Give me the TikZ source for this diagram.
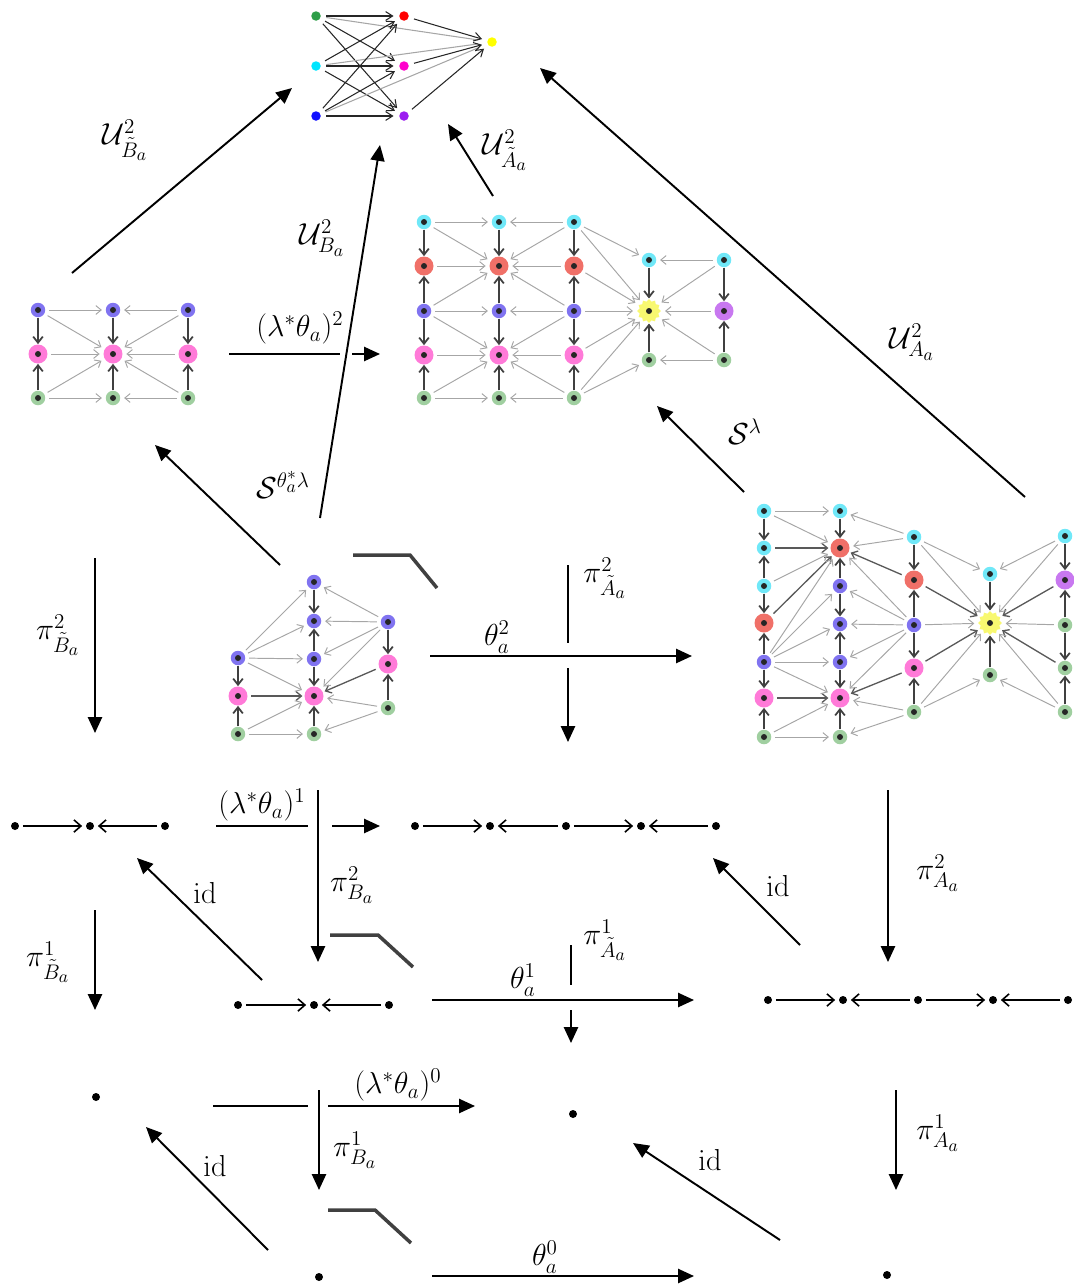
\documentclass[tikz,border=0pt]{standalone}
\usepackage{amsmath,amssymb}
\usetikzlibrary{arrows.meta, shapes.geometric}
\definecolor{Kgreen}{HTML}{2E9E48}
\definecolor{Kcyan}{HTML}{00E5FF}
\definecolor{Kblue}{HTML}{1010FF}
\definecolor{Kred}{HTML}{FF0000}
\definecolor{Kmag}{HTML}{FF00CC}
\definecolor{Kpurple}{HTML}{9B1CF0}
\definecolor{Kyellow}{HTML}{FFFF00}
\definecolor{Vblue}{HTML}{8073F0}
\definecolor{Vpink}{HTML}{FF7AD8}
\definecolor{Vgreen}{HTML}{A0CFA0}
\definecolor{Vcyan}{HTML}{70E8F8}
\definecolor{Vred}{HTML}{F07068}
\definecolor{Vyellow}{HTML}{F8F870}
\definecolor{Vpurple}{HTML}{C878F0}

\begin{document}
\begin{tikzpicture}[x=0.02cm, y=-0.02cm,
   vtx/.style={circle, inner sep=0pt, minimum size=0.29cm,
      path picture={\fill[black!85] (path picture bounding box.center) circle (0.06cm);}},
   vbig/.style={vtx, minimum size=0.38cm},
   sun/.style={star, star points=12, star point ratio=1.25, inner sep=0pt, minimum size=0.48cm, fill=Vyellow,
      path picture={\fill[black!85] (path picture bounding box.center) circle (0.06cm);}},
   kdot/.style={circle, inner sep=0pt, minimum size=0.19cm},
   pt/.style={circle, fill=black, inner sep=0pt, minimum size=0.16cm},
   gedge/.style={-{Straight Barb[length=3pt,width=5pt]}, gray!70, line width=0.55pt, shorten >=2pt, shorten <=2pt},
   dedge/.style={-{Straight Barb[length=3.5pt,width=5.5pt]}, black!75, line width=1pt},
   medge/.style={-{Straight Barb[length=3pt,width=5pt]}, black!65, line width=0.75pt, shorten >=1pt, shorten <=2pt},
   kedge/.style={-{Straight Barb[length=4pt,width=5pt]}, black!85, line width=0.6pt, shorten >=3pt, shorten <=3pt},
   segarr/.style={-{Straight Barb[length=4pt,width=7pt]}, line width=0.9pt, shorten >=2pt, shorten <=2pt},
   map/.style={-{Triangle[length=9pt,width=8pt]}, line width=1.1pt},
   corner/.style={line width=2pt, black!75},
   lbl/.style={font=\LARGE}
]
\useasboundingbox (0,0) rectangle (1073,1285);

% complete graph at the top
\node[kdot, fill=Kgreen] (K1) at (316,16) {};
\node[kdot, fill=Kcyan] (K2) at (316,66) {};
\node[kdot, fill=Kblue] (K3) at (316,116) {};
\node[kdot, fill=Kred] (K4) at (404,16) {};
\node[kdot, fill=Kmag] (K5) at (404,66) {};
\node[kdot, fill=Kpurple] (K6) at (404,116) {};
\node[kdot, fill=Kyellow] (K7) at (492,42) {};
\foreach \s in {K1,K2,K3} {
   \draw[gray!70, line width=0.6pt, shorten >=5pt, shorten <=3pt] (\s) -- (K7);
   \foreach \t in {K4,K5,K6} \draw[kedge] (\s) -- (\t);
}
\foreach \s in {K4,K5,K6} \draw[kedge] (\s) -- (K7);

% graph of B~a (left)
\node[vtx, fill=Vblue] (L1) at (38,310) {};
\node[vtx, fill=Vblue] (L2) at (113,310) {};
\node[vtx, fill=Vblue] (L3) at (188,310) {};
\node[vbig, fill=Vpink] (L4) at (38,354) {};
\node[vbig, fill=Vpink] (L5) at (113,354) {};
\node[vbig, fill=Vpink] (L6) at (188,354) {};
\node[vtx, fill=Vgreen] (L7) at (38,398) {};
\node[vtx, fill=Vgreen] (L8) at (113,398) {};
\node[vtx, fill=Vgreen] (L9) at (188,398) {};
\foreach \s/\t in {L1/L4, L7/L4, L2/L5, L8/L5, L3/L6, L9/L6} \draw[dedge] (\s) -- (\t);
\foreach \s/\t in {L1/L2, L3/L2, L1/L5, L3/L5, L4/L5, L6/L5, L7/L5, L9/L5, L7/L8, L9/L8}
   \draw[gedge] (\s) -- (\t);

% graph of A~a (middle top)
\foreach \c/\x in {Ma/424, Mb/499, Mc/574} {
   \node[vtx, fill=Vcyan] (\c1) at (\x,222) {};
   \node[vbig, fill=Vred] (\c2) at (\x,266) {};
   \node[vtx, fill=Vblue] (\c3) at (\x,311) {};
   \node[vbig, fill=Vpink] (\c4) at (\x,355) {};
   \node[vtx, fill=Vgreen] (\c5) at (\x,398) {};
   \foreach \s/\t in {1/2, 3/2, 3/4, 5/4} \draw[dedge] (\c\s) -- (\c\t);
}
\node[vtx, fill=Vcyan] (Md1) at (649,260) {};
\node[sun] (Md2) at (649,311) {};
\node[vtx, fill=Vgreen] (Md3) at (649,360) {};
\node[vtx, fill=Vcyan] (Me1) at (724,260) {};
\node[vbig, fill=Vpurple] (Me2) at (724,311) {};
\node[vtx, fill=Vgreen] (Me3) at (724,360) {};
\foreach \c in {Ma,Mc}
   \foreach \s/\t in {1/1, 1/2, 2/2, 3/2, 3/3, 3/4, 4/4, 5/4, 5/5} \draw[gedge] (\c\s) -- (Mb\t);
\foreach \s/\t in {Md1/Md2, Md3/Md2, Me1/Me2, Me3/Me2} \draw[dedge] (\s) -- (\t);
\foreach \s/\t in {Mc1/Md1, Mc1/Md2, Mc2/Md2, Mc3/Md2, Mc4/Md2, Mc5/Md2, Mc5/Md3,
   Me1/Md1, Me1/Md2, Me2/Md2, Me3/Md2, Me3/Md3} \draw[gedge] (\s) -- (\t);

% graph of Ba (bottom left)
\node[vtx, fill=Vblue] (Pa1) at (238,658) {};
\node[vbig, fill=Vpink] (Pa2) at (238,696) {};
\node[vtx, fill=Vgreen] (Pa3) at (238,734) {};
\node[vtx, fill=Vblue] (Pb1) at (314,582) {};
\node[vtx, fill=Vblue] (Pb2) at (314,621) {};
\node[vtx, fill=Vblue] (Pb3) at (314,659) {};
\node[vbig, fill=Vpink] (Pb4) at (314,696) {};
\node[vtx, fill=Vgreen] (Pb5) at (314,734) {};
\node[vtx, fill=Vblue] (Pc1) at (388,622) {};
\node[vbig, fill=Vpink] (Pc2) at (388,664) {};
\node[vtx, fill=Vgreen] (Pc3) at (388,708) {};
\foreach \s/\t in {Pb1/Pb2, Pb3/Pb2, Pb3/Pb4, Pb5/Pb4, Pa1/Pa2, Pa3/Pa2, Pc1/Pc2, Pc3/Pc2}
   \draw[dedge] (\s) -- (\t);
\foreach \s/\t in {Pa2/Pb4, Pc2/Pb4} \draw[medge] (\s) -- (\t);
\foreach \s/\t in {Pa1/Pb1, Pa1/Pb2, Pa1/Pb3, Pa1/Pb4, Pc1/Pb1, Pc1/Pb2, Pc1/Pb3, Pc1/Pb4,
   Pa3/Pb4, Pa3/Pb5, Pc3/Pb4, Pc3/Pb5} \draw[gedge] (\s) -- (\t);

% graph of Aa (right)
\node[vtx, fill=Vcyan] (Ra1) at (764,511) {};
\node[vtx, fill=Vcyan] (Ra2) at (764,548) {};
\node[vtx, fill=Vcyan] (Ra3) at (764,586) {};
\node[vbig, fill=Vred] (Ra4) at (764,623) {};
\node[vtx, fill=Vblue] (Ra5) at (764,662) {};
\node[vbig, fill=Vpink] (Ra6) at (764,698) {};
\node[vtx, fill=Vgreen] (Ra7) at (764,737) {};
\node[vtx, fill=Vcyan] (Rb1) at (840,511) {};
\node[vbig, fill=Vred] (Rb2) at (840,548) {};
\node[vtx, fill=Vblue] (Rb3) at (840,586) {};
\node[vtx, fill=Vblue] (Rb4) at (840,624) {};
\node[vtx, fill=Vblue] (Rb5) at (840,662) {};
\node[vbig, fill=Vpink] (Rb6) at (840,698) {};
\node[vtx, fill=Vgreen] (Rb7) at (840,737) {};
\node[vtx, fill=Vcyan] (Rc1) at (914,537) {};
\node[vbig, fill=Vred] (Rc2) at (914,580) {};
\node[vtx, fill=Vblue] (Rc3) at (914,625) {};
\node[vbig, fill=Vpink] (Rc4) at (914,668) {};
\node[vtx, fill=Vgreen] (Rc5) at (914,712) {};
\node[vtx, fill=Vcyan] (Rd1) at (990,574) {};
\node[sun] (Rd2) at (990,623) {};
\node[vtx, fill=Vgreen] (Rd3) at (990,675) {};
\node[vtx, fill=Vcyan] (Re1) at (1065,536) {};
\node[vbig, fill=Vpurple] (Re2) at (1065,580) {};
\node[vtx, fill=Vgreen] (Re3) at (1065,625) {};
\node[vtx, fill=Vgreen] (Re4) at (1065,668) {};
\node[vtx, fill=Vgreen] (Re5) at (1065,712) {};
\foreach \c in {Ra,Rb} \foreach \s/\t in {1/2, 3/2, 3/4, 5/4, 5/6, 7/6} \draw[dedge] (\c\s) -- (\c\t);
\foreach \c in {Rc,Re} \foreach \s/\t in {1/2, 3/2, 3/4, 5/4} \draw[dedge] (\c\s) -- (\c\t);
\foreach \s/\t in {Rd1/Rd2, Rd3/Rd2} \draw[dedge] (\s) -- (\t);
\foreach \s/\t in {Ra2/Rb2, Ra4/Rb2, Ra6/Rb6, Rc2/Rb2, Rc4/Rb6, Rc2/Rd2, Rc4/Rd2, Re2/Rd2, Re4/Rd2}
   \draw[medge] (\s) -- (\t);
\foreach \s/\t in {Ra1/Rb1, Ra1/Rb2, Ra3/Rb2, Ra5/Rb2, Ra5/Rb3, Ra5/Rb4, Ra5/Rb5, Ra5/Rb6, Ra7/Rb6, Ra7/Rb7,
   Rc1/Rb1, Rc1/Rb2, Rc3/Rb2, Rc3/Rb3, Rc3/Rb4, Rc3/Rb5, Rc3/Rb6, Rc5/Rb6, Rc5/Rb7,
   Rc1/Rd1, Rc1/Rd2, Rc3/Rd2, Rc5/Rd2, Rc5/Rd3, Re1/Rd1, Re1/Rd2, Re3/Rd2, Re5/Rd2, Re5/Rd3}
   \draw[gedge] (\s) -- (\t);

% one-dimensional pieces
\foreach \n/\x in {S1a/15, S1b/90, S1c/165} \node[pt] (\n) at (\x,826) {};
\foreach \n/\x in {S2a/415, S2b/490, S2c/566, S2d/641, S2e/716} \node[pt] (\n) at (\x,826) {};
\foreach \n/\x in {S3a/238, S3b/314, S3c/389} \node[pt] (\n) at (\x,1005) {};
\foreach \n/\x in {S4a/768, S4b/843, S4c/918, S4d/993, S4e/1068} \node[pt] (\n) at (\x,1000) {};
\foreach \s/\t in {S1a/S1b, S1c/S1b, S2a/S2b, S2c/S2b, S2c/S2d, S2e/S2d, S3a/S3b, S3c/S3b,
   S4a/S4b, S4c/S4b, S4c/S4d, S4e/S4d} \draw[segarr] (\s) -- (\t);

% points
\node[pt] (O1) at (96,1097) {};
\node[pt] (O2) at (573,1114) {};
\node[pt] (O3) at (319,1277) {};
\node[pt] (O4) at (887,1275) {};

% ends of the maps
\coordinate (uBt0) at (72,273);   \coordinate (uBt1) at (292,88);
\coordinate (uB0) at (320,518);   \coordinate (uB1) at (380,145);
\coordinate (uAt0) at (493,196);  \coordinate (uAt1) at (448,124);
\coordinate (uA0) at (1025,497);  \coordinate (uA1) at (540,68);
\coordinate (h2a) at (229,354);   \coordinate (h2b) at (340,354);
\coordinate (h2c) at (352,354);   \coordinate (h2d) at (380,354);
\coordinate (sl0) at (744,492);   \coordinate (sl1) at (657,406);
\coordinate (st0) at (280,565);   \coordinate (st1) at (155,445);
\coordinate (pBt0) at (95,558);   \coordinate (pBt1) at (95,733);
\coordinate (th2a) at (430,656);  \coordinate (th2b) at (692,656);
\coordinate (pAt0) at (568,565);  \coordinate (pAt1) at (568,643);
\coordinate (pAt2) at (568,668);  \coordinate (pAt3) at (568,742);
\coordinate (pA0) at (888,790);   \coordinate (pA1) at (888,962);
\coordinate (h1a) at (216,826);   \coordinate (h1b) at (308,826);
\coordinate (h1c) at (332,826);   \coordinate (h1d) at (380,826);
\coordinate (pB0) at (318,790);   \coordinate (pB1) at (318,962);
\coordinate (id1a) at (262,980);  \coordinate (id1b) at (137,858);
\coordinate (id2a) at (800,945);  \coordinate (id2b) at (713,858);
\coordinate (qBt0) at (95,910);   \coordinate (qBt1) at (95,1010);
\coordinate (th1a) at (432,1000); \coordinate (th1b) at (694,1000);
\coordinate (qAt0) at (571,945);  \coordinate (qAt1) at (571,985);
\coordinate (qAt2) at (571,1010); \coordinate (qAt3) at (571,1043);
\coordinate (h0a) at (213,1106);  \coordinate (h0b) at (308,1106);
\coordinate (h0c) at (328,1106);  \coordinate (h0d) at (475,1106);
\coordinate (qB0) at (319,1090);  \coordinate (qB1) at (319,1190);
\coordinate (id3a) at (268,1250); \coordinate (id3b) at (146,1127);
\coordinate (id4a) at (780,1240); \coordinate (id4b) at (633,1143);
\coordinate (qA0) at (896,1090);  \coordinate (qA1) at (896,1190);
\coordinate (th0a) at (432,1276); \coordinate (th0b) at (694,1276);

% maps
\draw[map] (uBt0) -- (uBt1);
\draw[map] (uB0) -- (uB1);
\draw[map] (uAt0) -- (uAt1);
\draw[map] (uA0) -- (uA1);
\draw[line width=1.1pt] (h2a) -- (h2b);
\draw[map] (h2c) -- (h2d);
\draw[map] (sl0) -- (sl1);
\draw[map] (st0) -- (st1);
\draw[map] (pBt0) -- (pBt1);
\draw[map] (th2a) -- (th2b);
\draw[line width=1.1pt] (pAt0) -- (pAt1);
\draw[map] (pAt2) -- (pAt3);
\draw[map] (pA0) -- (pA1);
\draw[line width=1.1pt] (h1a) -- (h1b);
\draw[map] (h1c) -- (h1d);
\draw[map] (pB0) -- (pB1);
\draw[map] (id1a) -- (id1b);
\draw[map] (id2a) -- (id2b);
\draw[map] (qBt0) -- (qBt1);
\draw[map] (th1a) -- (th1b);
\draw[line width=1.1pt] (qAt0) -- (qAt1);
\draw[map] (qAt2) -- (qAt3);
\draw[line width=1.1pt] (h0a) -- (h0b);
\draw[map] (h0c) -- (h0d);
\draw[map] (qB0) -- (qB1);
\draw[map] (id3a) -- (id3b);
\draw[map] (id4a) -- (id4b);
\draw[map] (qA0) -- (qA1);
\draw[map] (th0a) -- (th0b);

% pullback corners
\draw[corner] (353,555) -- (410,555) -- (437,588);
\draw[corner] (330,935) -- (378,935) -- (413,967);
\draw[corner] (328,1210) -- (375,1210) -- (411,1243);

% labels
\node[lbl] (lUBt) at (125,140) {$\mathcal{U}^2_{\tilde{B}_a}$};
\node[lbl] (lUB) at (322,238) {$\mathcal{U}^2_{B_a}$};
\node[lbl] (lUAt) at (505,150) {$\mathcal{U}^2_{\tilde{A}_a}$};
\node[lbl] (lUA) at (912,342) {$\mathcal{U}^2_{A_a}$};
\node[lbl] (lh2) at (300,328) {$(\lambda^*\theta_a)^2$};
\node[lbl] (lst) at (283,485) {$\mathcal{S}^{\theta_a^*\lambda}$};
\node[lbl] (lsl) at (745,432) {$\mathcal{S}^{\lambda}$};
\node[lbl] (lpBt) at (58,635) {$\pi^2_{\tilde{B}_a}$};
\node[lbl] (lth2) at (497,637) {$\theta_a^2$};
\node[lbl] (lpAt) at (605,578) {$\pi^2_{\tilde{A}_a}$};
\node[lbl] (lh1) at (262,805) {$(\lambda^*\theta_a)^1$};
\node[lbl] (lpB) at (352,885) {$\pi^2_{B_a}$};
\node[lbl] (lid1) at (205,893) {$\mathrm{id}$};
\node[lbl] (lid2) at (778,886) {$\mathrm{id}$};
\node[lbl] (lpA) at (938,873) {$\pi^2_{A_a}$};
\node[lbl] (lqBt) at (48,962) {$\pi^1_{\tilde{B}_a}$};
\node[lbl] (lqAt) at (605,940) {$\pi^1_{\tilde{A}_a}$};
\node[lbl] (lth1) at (523,980) {$\theta_a^1$};
\node[lbl] (lh0) at (398,1085) {$(\lambda^*\theta_a)^0$};
\node[lbl] (lqB) at (355,1150) {$\pi^1_{B_a}$};
\node[lbl] (lid3) at (215,1166) {$\mathrm{id}$};
\node[lbl] (lid4) at (710,1160) {$\mathrm{id}$};
\node[lbl] (lqA) at (938,1133) {$\pi^1_{A_a}$};
\node[lbl] (lth0) at (545,1257) {$\theta_a^0$};
\end{tikzpicture}
\end{document}
